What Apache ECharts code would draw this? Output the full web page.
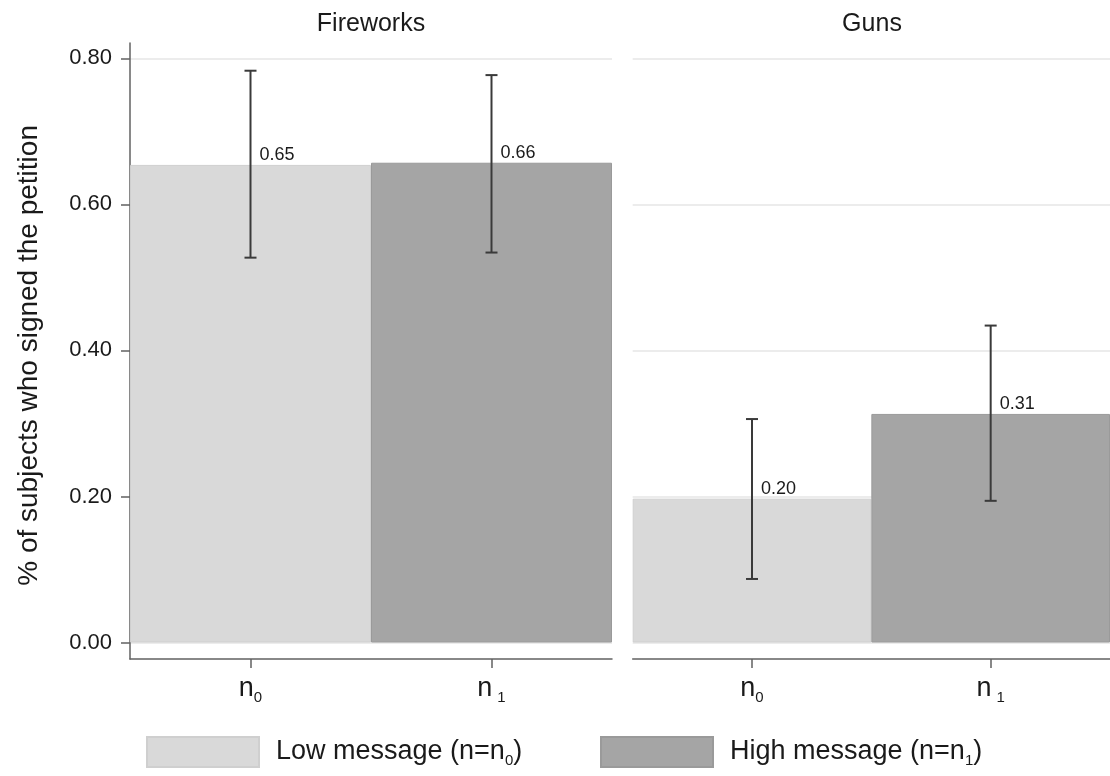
<!DOCTYPE html>
<html>
<head>
<meta charset="utf-8">
<script src="https://cdn.jsdelivr.net/npm/echarts@6/dist/echarts.min.js"></script>
<style>
html,body{margin:0;padding:0;background:#fff;}
#chart{width:1110px;height:776px;}
</style>
</head>
<body>
<div id="chart"></div>
<script>
// ---- data ----
const panels = ['Fireworks', 'Guns'];
const categories = ['n0', 'n1'];
const seriesNames = ['Low message (n=n0)', 'High message (n=n1)'];
const lowMean = [0.654, 0.197];          // per panel, category n0
const highMean = [0.657, 0.313];         // per panel, category n1
const lowCiLower = [0.527, 0.087];
const lowCiUpper = [0.783, 0.306];
const highCiLower = [0.534, 0.194];
const highCiUpper = [0.777, 0.434];
const yMin = 0, yMax = 0.8, yInterval = 0.2;
const yTitle = '% of subjects who signed the petition';

// ---- style ----
const FONT = '"Liberation Sans", Arial, Helvetica, sans-serif';
const TXT = '#1a1a1a';
const AXC = '#626262';
const LOW_C = '#d9d9d9';
const HIGH_C = '#a5a5a5';
const ERR_C = '#3a3a3a';

const chart = echarts.init(document.getElementById('chart'), null, {renderer: 'canvas'});

function subRich(big, small) {
  return {
    t: {fontSize: big, lineHeight: 32, fontFamily: FONT, color: TXT, verticalAlign: 'middle'},
    s: {fontSize: small, lineHeight: small, fontFamily: FONT, color: TXT, verticalAlign: 'bottom'},
    s1: {fontSize: small, lineHeight: small, fontFamily: FONT, color: TXT, verticalAlign: 'bottom', padding: [0, 0, 0, 5]}
  };
}
function catFormatter(v) {
  const m = v.match(/^n(\d)$/);
  const st = m[1] === '1' ? 's1' : 's';
  return '{t|n}{' + st + '|' + m[1] + '}';
}
function legendFormatter(name) {
  const m = name.match(/^(.*n)(\d)\)$/);
  return '{t|' + m[1] + '}{s|' + m[2] + '}{t|)}';
}

const grids = [
  {left: 130, top: 58.3, width: 482, bottom: 776 - 642.5},
  {left: 632.7, top: 58.3, width: 483, bottom: 776 - 642.5},
  {left: 130, top: 43, width: 1, bottom: 776 - 659}
];

const xAxes = [0, 1].map(i => ({
  type: 'category', gridIndex: i, data: categories, position: 'bottom', offset: 16.5,
  axisLine: {show: true, onZero: false, lineStyle: {color: AXC, width: 1.5}},
  axisTick: {show: true, alignWithLabel: true, length: 9, lineStyle: {color: AXC, width: 1.5}},
  axisLabel: {margin: 14, formatter: catFormatter, rich: subRich(27, 15)},
  splitLine: {show: false}
}));
xAxes.push({type: 'value', gridIndex: 2, show: false, min: 0, max: 1});

const yAxes = [0, 1].map(i => ({
  type: 'value', gridIndex: i, min: yMin, max: yMax, interval: yInterval,
  axisLine: {show: false},
  axisTick: {show: i === 0, length: 9, lineStyle: {color: AXC, width: 1.5}},
  axisLabel: {show: i === 0, margin: 18, fontSize: 22, fontFamily: FONT, color: TXT,
    formatter: v => v.toFixed(2)},
  splitLine: {show: true, lineStyle: {color: '#ececec', width: 2}},
  name: i === 0 ? yTitle : '', nameLocation: 'middle', nameRotate: 90, nameGap: 87,
  nameTextStyle: {fontSize: 28, fontFamily: FONT, color: TXT, padding: [0, 10, 0, 0]}
}));
yAxes.push({
  type: 'value', gridIndex: 2, min: 0, max: 1,
  axisLine: {show: true, onZero: false, lineStyle: {color: AXC, width: 1.5}},
  axisTick: {show: false}, axisLabel: {show: false}, splitLine: {show: false}
});

function renderErr(params, api) {
  const c = api.value(0);
  const x = api.coord([c, 0])[0];
  const yLo = api.coord([c, api.value(1)])[1];
  const yHi = api.coord([c, api.value(2)])[1];
  const yMean = api.coord([c, api.value(3)])[1];
  const cap = 6;
  const ls = {stroke: ERR_C, lineWidth: 2};
  return {
    type: 'group',
    children: [
      {type: 'line', shape: {x1: x, y1: yLo, x2: x, y2: yHi}, style: ls},
      {type: 'line', shape: {x1: x - cap, y1: yLo, x2: x + cap, y2: yLo}, style: ls},
      {type: 'line', shape: {x1: x - cap, y1: yHi, x2: x + cap, y2: yHi}, style: ls},
      {type: 'text', x: x + 9, y: yMean - 1,
        style: {text: api.value(3).toFixed(2), fontSize: 18, fontFamily: FONT, fill: TXT,
          textAlign: 'left', textVerticalAlign: 'bottom'}}
    ]
  };
}

const series = [];
[0, 1].forEach(i => {
  series.push({
    name: seriesNames[0], type: 'bar', xAxisIndex: i, yAxisIndex: i,
    data: [lowMean[i], '-'], barGap: '-100%', barCategoryGap: '0%',
    itemStyle: {color: LOW_C, borderColor: '#cfcfcf', borderWidth: 1},
    emphasis: {disabled: true}, silent: true
  });
  series.push({
    name: seriesNames[1], type: 'bar', xAxisIndex: i, yAxisIndex: i,
    data: ['-', highMean[i]], barGap: '-100%', barCategoryGap: '0%',
    itemStyle: {color: HIGH_C, borderColor: '#9a9a9a', borderWidth: 1},
    emphasis: {disabled: true}, silent: true
  });
  series.push({
    type: 'custom', xAxisIndex: i, yAxisIndex: i, z: 5, silent: true,
    renderItem: renderErr,
    encode: {x: 0, y: [1, 2]},
    data: [
      [0, lowCiLower[i], lowCiUpper[i], lowMean[i]],
      [1, highCiLower[i], highCiUpper[i], highMean[i]]
    ]
  });
});

const legendBase = {
  orient: 'horizontal', top: 731, itemWidth: 112, itemHeight: 30, icon: 'rect',
  selectedMode: false, formatter: legendFormatter,
  textStyle: {fontSize: 27, fontFamily: FONT, color: TXT, padding: [0, 0, 0, 12], rich: subRich(27, 15)}
};

const option = {
  animation: false,
  backgroundColor: '#ffffff',
  title: [
    {text: panels[0], left: 366, top: 7, textAlign: 'center',
      textStyle: {fontSize: 25, fontWeight: 'normal', fontFamily: FONT, color: TXT}},
    {text: panels[1], left: 867, top: 7, textAlign: 'center',
      textStyle: {fontSize: 25, fontWeight: 'normal', fontFamily: FONT, color: TXT}}
  ],
  legend: [
    Object.assign({}, legendBase, {left: 141, data: [seriesNames[0]]}),
    Object.assign({}, legendBase, {left: 595, data: [seriesNames[1]]})
  ],
  grid: grids,
  xAxis: xAxes,
  yAxis: yAxes,
  series: series
};
chart.setOption(option);
</script>
</body>
</html>
